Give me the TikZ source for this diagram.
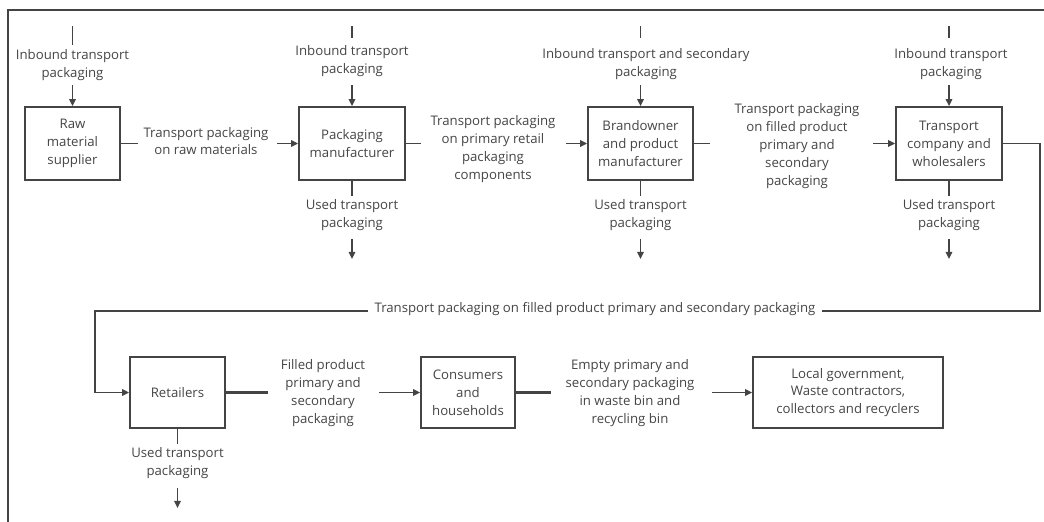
\documentclass[tikz,border=0pt]{standalone}
\usepackage{fontspec}
\setmainfont{Open Sans}
\usetikzlibrary{positioning}
\usetikzlibrary{arrows.meta}
\definecolor{inkgrey}{HTML}{444444}
\definecolor{txtgrey}{HTML}{454545}
\tikzset{
  stage/.style={draw=inkgrey, line width=1.8pt, align=center, text=txtgrey,
    inner sep=2pt, font=\fontsize{13.2}{17.9}\selectfont},
  flowtxt/.style={align=center, text=txtgrey, inner sep=5pt,
    font=\fontsize{13.2}{17.9}\selectfont},
  flow/.style={draw=inkgrey, line width=1.5pt},
  fatflow/.style={draw=inkgrey, line width=2.8pt},
  flowarr/.style={flow, -{Triangle[length=7pt,width=6.5pt]}}
}
\begin{document}
\begin{tikzpicture}[x=1pt,y=-1pt]
  \useasboundingbox (0,0) rectangle (1044,522);
  \draw[inkgrey, line width=1.6pt] (8,530) -- (8,10) -- (1050,10);

  % stages
  \node[stage, minimum width=95pt, minimum height=73pt] (raw) at (72.5,143.5) {Raw\\material\\supplier};
  \node[stage, minimum width=106pt, minimum height=73pt] (pack) at (352,143.5) {Packaging\\manufacturer};
  \node[stage, minimum width=105pt, minimum height=73pt] (brand) at (640.5,143.5) {Brandowner\\and product\\manufacturer};
  \node[stage, minimum width=106pt, minimum height=73pt] (trans) at (949,143.5) {Transport\\company and\\wholesalers};
  \node[stage, minimum width=95pt, minimum height=71pt] (retail) at (177.5,392.5) {Retailers};
  \node[stage, minimum width=94pt, minimum height=71pt] (cons) at (468,392.5) {Consumers\\and\\households};
  \node[stage, minimum width=190pt, minimum height=71pt] (local) at (848,392.5) {Local government,\\Waste contractors,\\collectors and recyclers};

  % inbound packaging
  \node[flowtxt] (raw-intxt) at (72.5,65) {Inbound transport\\packaging};
  \node[flowtxt] (pack-intxt) at (352,61) {Inbound transport\\packaging};
  \node[flowtxt] (brand-intxt) at (646,64) {Inbound transport and secondary\\packaging};
  \node[flowtxt] (trans-intxt) at (951,64) {Inbound transport\\packaging};
  \foreach \s/\len in {raw/19,pack/12,brand/12,trans/12} {
    \coordinate (\s-in) at ([yshift=80pt]\s.north);
    \coordinate (\s-ar) at ([yshift=21pt]\s.north);
    \draw[flow] (\s-in) -- ++(0,\len);
    \draw[flowarr] (\s-ar) -- (\s.north);
  }

  % used packaging
  \node[flowtxt] (pack-outtxt) at (352,215) {Used transport\\packaging};
  \node[flowtxt] (brand-outtxt) at (640.5,215) {Used transport\\packaging};
  \node[flowtxt] (trans-outtxt) at (949,215) {Used transport\\packaging};
  \node[flowtxt] (retail-outtxt) at (177.5,463.5) {Used transport\\packaging};
  \foreach \s/\gap in {pack/58,brand/58,trans/58,retail/59} {
    \coordinate (\s-out) at ([yshift=-\gap pt]\s.south);
    \draw[flow] (\s.south) -- ++(0,15);
    \draw[flowarr] (\s-out) -- ++(0,20);
  }

  % flows between stages
  \node[flowtxt] (rawpack) at (206,141) {Transport packaging\\on raw materials};
  \node[flowtxt] (packbrand) at (493,149) {Transport packaging\\on primary retail\\packaging\\components};
  \node[flowtxt] (brandtrans) at (797,146) {Transport packaging\\on filled product\\primary and\\secondary\\packaging};
  \node[flowtxt] (retailcons) at (323,393) {Filled product\\primary and\\secondary\\packaging};
  \node[flowtxt] (conslocal) at (630,393) {Empty primary and\\secondary packaging\\in waste bin and\\recycling bin};
  \foreach \a/\b/\outl/\inl/\sty in {raw/pack/17/21/flow, pack/brand/15/21/flow,
      brand/trans/16/22/flow, retail/cons/42/41/fatflow, cons/local/35/40/fatflow} {
    \coordinate (\a-east) at ([xshift=\outl pt]\a.east);
    \coordinate (\b-west) at ([xshift=-\inl pt]\b.west);
    \draw[\sty] (\a.east) -- (\a-east);
    \draw[flowarr] (\b-west) -- (\b.west);
  }

  % loop to retailers
  \node[flowtxt, inner sep=6pt] (looptxt) at (595,309) {Transport packaging on filled product primary and secondary packaging};
  \coordinate (loopr) at (1040,311);
  \coordinate (loopl) at (95,311);
  \draw[flow] (trans.east) -| (loopr) -- (looptxt.east |- loopr);
  \draw[flowarr] (looptxt.west |- loopl) -- (loopl) |- (retail.west);
\end{tikzpicture}
\end{document}
